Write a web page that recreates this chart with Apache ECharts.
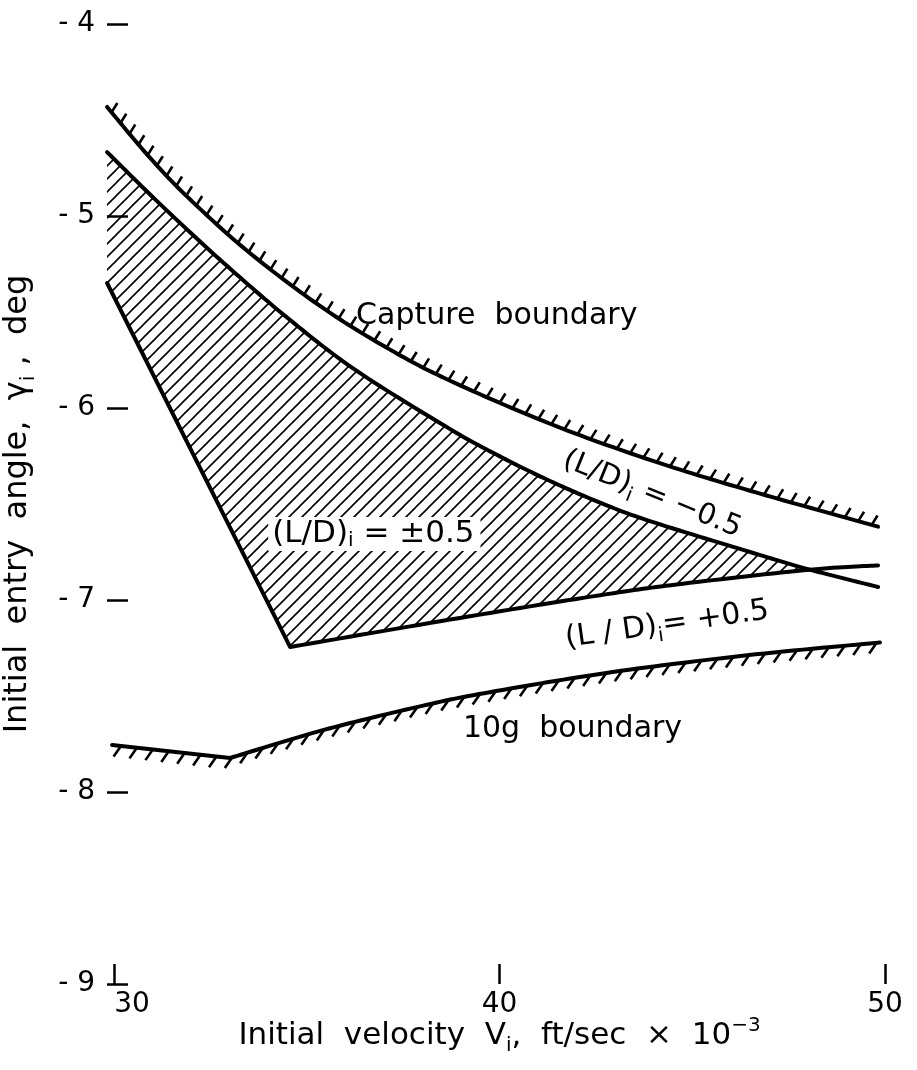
<!DOCTYPE html>
<html>
<head>
<meta charset="utf-8">
<script src="https://cdn.jsdelivr.net/npm/echarts@6/dist/echarts.min.js"></script>
<style>
  html, body { margin: 0; padding: 0; background: #fff; }
  #chart { width: 917px; height: 1070px; }
</style>
</head>
<body>
<div id="chart"></div>
<script>
// Axis ranges and tick values
const xTicks = [30, 40, 50];
const yTicks = [-9, -8, -7, -6, -5, -4];

// Capture boundary (velocity x10^-3 ft/sec, entry angle deg)
const captureBoundary = [
  [29.82, -4.432], [30.93, -4.696], [31.97, -4.913], [33.53, -5.194],
  [35.42, -5.479], [37.16, -5.696], [38.72, -5.858], [41.31, -6.082],
  [43.9, -6.27], [46.5, -6.431], [49.82, -6.618]
];

// (L/D)i = -0.5 limit
const ldMinus = [
  [29.82, -4.667], [31.19, -4.937], [32.83, -5.242], [34.57, -5.542],
  [36.3, -5.807], [38.72, -6.11], [40.01, -6.252], [41.31, -6.38],
  [42.61, -6.493], [43.9, -6.589], [46.5, -6.75], [48.05, -6.842],
  [49.82, -6.932]
];

// (L/D)i = +0.5 limit: straight steep leg, then curved leg
const ldPlusLeft = [[29.82, -5.349], [34.57, -7.245]];
const ldPlusRight = [
  [34.57, -7.245], [38.72, -7.102], [42.61, -6.975], [44.76, -6.915],
  [48.05, -6.842], [49.82, -6.82]
];

// Point where the two (L/D) limits meet
const limitsMeet = [48.05, -6.842];

// 10g boundary: short falling leg, then rising curve
const gLeft = [[29.95, -7.755], [33.01, -7.823]];
const gRight = [
  [33.01, -7.823], [35.42, -7.678], [38.02, -7.55], [39.75, -7.48],
  [42.94, -7.375], [46.42, -7.288], [49.87, -7.221]
];

// Annotation anchors in data coordinates
const labelCapture = [36.28, -5.52];
const labelBand = [34.0, -6.656];
const labelMinus = [43.96, -6.45];
const labelPlus = [44.35, -7.13];
const labelG = [39.05, -7.672];

const FONT = '"DejaVu Sans", sans-serif';

// Diagonal hatch tile for the shaded band
function hatchTile() {
  const s = 13;
  const c = document.createElement('canvas');
  c.width = s; c.height = s;
  const g = c.getContext('2d');
  g.strokeStyle = '#000';
  g.lineWidth = 1.6;
  g.beginPath();
  for (let k = -1; k <= 1; k++) {
    g.moveTo(k * s - 1, s + 1);
    g.lineTo(k * s + s + 1, -1);
  }
  g.stroke();
  return c;
}
const tile = hatchTile();

// Smooth a pixel polyline with Catmull-Rom
function smooth(pts, n) {
  if (pts.length < 3) return pts.slice();
  const out = [];
  for (let i = 0; i < pts.length - 1; i++) {
    const p0 = pts[Math.max(i - 1, 0)], p1 = pts[i], p2 = pts[i + 1], p3 = pts[Math.min(i + 2, pts.length - 1)];
    for (let j = 0; j < n; j++) {
      const t = j / n, t2 = t * t, t3 = t2 * t;
      const f = (a, b, c, d) => 0.5 * (2 * b + (-a + c) * t + (2 * a - 5 * b + 4 * c - d) * t2 + (-a + 3 * b - 3 * c + d) * t3);
      out.push([f(p0[0], p1[0], p2[0], p3[0]), f(p0[1], p1[1], p2[1], p3[1])]);
    }
  }
  out.push(pts[pts.length - 1]);
  return out;
}

// Short hatch strokes placed along a path at a fixed direction
function ticksAlong(path, spacing, start, dx, dy, len) {
  const segs = [];
  let next = start, acc = 0;
  for (let i = 0; i < path.length - 1; i++) {
    const a = path[i], b = path[i + 1];
    const L = Math.hypot(b[0] - a[0], b[1] - a[1]);
    while (next <= acc + L) {
      const t = (next - acc) / L;
      const x = a[0] + (b[0] - a[0]) * t, y = a[1] + (b[1] - a[1]) * t;
      segs.push([[x, y], [x + dx * len, y + dy * len]]);
      next += spacing;
    }
    acc += L;
  }
  return segs;
}

const SEG = 16;

function renderAll(params, api) {
  const px = arr => arr.map(p => api.coord(p));
  const cap = smooth(px(captureBoundary), SEG);
  const minus = smooth(px(ldMinus), SEG);
  const plusL = px(ldPlusLeft);
  const plusR = smooth(px(ldPlusRight), SEG);
  const plus = plusL.concat(plusR.slice(1));
  const gL = px(gLeft);
  const gR = smooth(px(gRight), SEG);
  const gPath = gL.concat(gR.slice(1));

  // Shaded band: -0.5 limit down to the meeting point, back along the +0.5 limit
  const meetPx = api.coord(limitsMeet);
  const upper = minus.filter(p => p[0] < meetPx[0]);
  const lower = plus.filter(p => p[0] < meetPx[0] || p[1] > meetPx[1] + 20);
  const band = upper.concat([meetPx], lower.slice().reverse());

  const children = [];
  children.push({ type: 'polygon', shape: { points: band }, style: { fill: { image: tile, repeat: 'repeat' }, stroke: null } });

  const heavy = { stroke: '#000', lineWidth: 4, fill: null, lineJoin: 'round', lineCap: 'round' };
  [cap, minus, plus, gPath].forEach(p => children.push({ type: 'polyline', shape: { points: p }, style: heavy }));

  const tickStyle = { stroke: '#000', lineWidth: 2.6, lineCap: 'butt' };
  ticksAlong(cap, 14, 7, 0.53, -0.85, 11).forEach(s =>
    children.push({ type: 'line', shape: { x1: s[0][0], y1: s[0][1], x2: s[1][0], y2: s[1][1] }, style: tickStyle }));
  ticksAlong(gPath, 16, 9, -0.57, 0.82, 13).forEach(s =>
    children.push({ type: 'line', shape: { x1: s[0][0], y1: s[0][1], x2: s[1][0], y2: s[1][1] }, style: tickStyle }));

  const rich = {
    s: { fontSize: 20, fontFamily: FONT, fill: '#000', verticalAlign: 'bottom', lineHeight: 20 }
  };
  const txt = (pos, text, align, rotDeg, size, extra) => {
    const p = api.coord(pos);
    return {
      type: 'text', x: p[0], y: p[1], rotation: rotDeg * Math.PI / 180,
      style: Object.assign({ text, fontSize: size, fontFamily: FONT, fill: '#000', align, verticalAlign: 'middle', lineHeight: 40, rich }, extra || {})
    };
  };
  children.push(txt(labelCapture, 'Capture  boundary', 'left', 0, 30));
  children.push(txt(labelBand, '(L/D){s|i} = \u00b10.5', 'left', 0, 31,
    { backgroundColor: '#fff', padding: [0, 6, 0, 4], lineHeight: 34 }));
  children.push(txt(labelMinus, '(L/D){s|i} = \u22120.5', 'center', -22, 29));
  children.push(txt(labelPlus, '(L / D){s|i}= +0.5', 'center', 8, 30));
  children.push(txt(labelG, '10g  boundary', 'left', 0, 30));

  return { type: 'group', children };
}

const subRich = { fontFamily: FONT, color: '#000', fontSize: 20, lineHeight: 20, verticalAlign: 'bottom' };
const supRich = { fontFamily: FONT, color: '#000', fontSize: 20, lineHeight: 20, verticalAlign: 'top' };

const chart = echarts.init(document.getElementById('chart'), null, { renderer: 'canvas' });
chart.setOption({
  animation: false,
  backgroundColor: '#fff',
  grid: { left: 114, right: 32, top: 24, bottom: 86, containLabel: false, outerBoundsMode: 'none' },
  xAxis: {
    type: 'value', min: xTicks[0], max: xTicks[xTicks.length - 1], interval: 10,
    axisLine: { show: false },
    axisTick: { inside: true, length: 20, lineStyle: { color: '#000', width: 2.5 } },
    splitLine: { show: false },
    axisLabel: {
      margin: 7, color: '#000', fontSize: 28, fontFamily: FONT,
      formatter: v => v === xTicks[0] ? '{f|' + v + '}' : String(v),
      rich: { f: { fontSize: 28, fontFamily: FONT, color: '#000', padding: [0, 0, 0, 36] } }
    },
    name: 'Initial  velocity  V{s|i},  ft/sec  \u00d7  10{p|\u22123}',
    nameLocation: 'middle', nameGap: 32, nameMoveOverlap: false,
    nameTextStyle: {
      fontSize: 31, fontFamily: FONT, color: '#000', lineHeight: 40,
      rich: { s: subRich, p: supRich }
    }
  },
  yAxis: {
    type: 'value', min: yTicks[0], max: yTicks[yTicks.length - 1], interval: 1,
    offset: 7,
    axisLine: { show: false },
    axisTick: { inside: true, length: 21, lineStyle: { color: '#000', width: 2.5 } },
    splitLine: { show: false },
    axisLabel: {
      margin: 12, color: '#000', fontSize: 28, fontFamily: FONT,
      formatter: v => '- ' + Math.abs(v)
    },
    name: 'Initial  entry  angle,  \u03b3{s|i} ,  deg',
    nameLocation: 'middle', nameRotate: 90, nameGap: 68,
    nameTextStyle: {
      fontSize: 32, fontFamily: FONT, color: '#000', lineHeight: 42,
      rich: { s: subRich }
    }
  },
  series: [{
    type: 'custom',
    coordinateSystem: 'cartesian2d',
    clip: false,
    silent: true,
    data: [[30, -9]],
    renderItem: renderAll
  }]
});
</script>
</body>
</html>
